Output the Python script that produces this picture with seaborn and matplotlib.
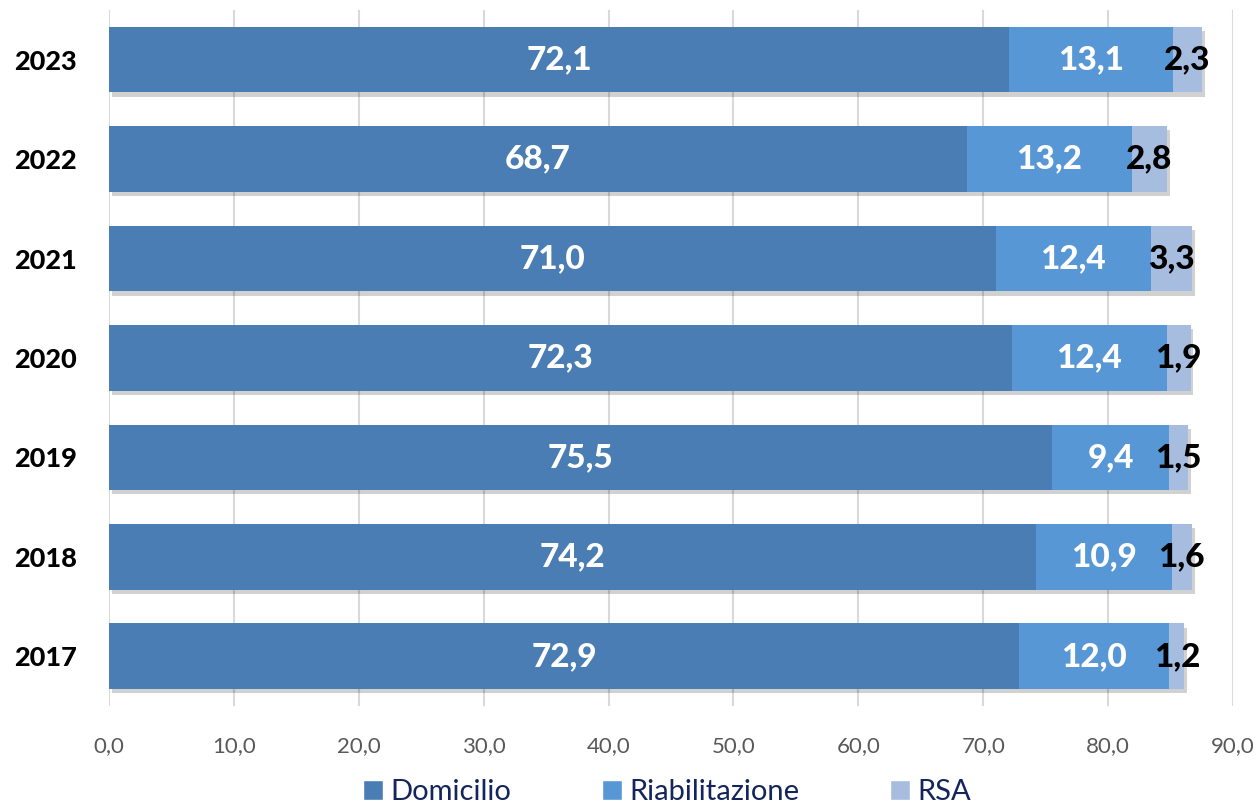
import numpy as np
import pandas as pd
import matplotlib
matplotlib.use("Agg")
import matplotlib.pyplot as plt
import matplotlib.patheffects as pe
from matplotlib.patches import Patch
import seaborn as sns

# data (top to bottom as drawn)
years = ["2023", "2022", "2021", "2020", "2019", "2018", "2017"]
domicilio = [72.1, 68.7, 71.0, 72.3, 75.5, 74.2, 72.9]
riabilitazione = [13.1, 13.2, 12.4, 12.4, 9.4, 10.9, 12.0]
rsa = [2.3, 2.8, 3.3, 1.9, 1.5, 1.6, 1.2]
series_names = ["Domicilio", "Riabilitazione", "RSA"]
x_ticks = [0, 10, 20, 30, 40, 50, 60, 70, 80, 90]

colors = ["#4a7db3", "#5797d6", "#a6bde0"]
label_colors = ["white", "white", "black"]

sns.set_style("white")
plt.rcParams["font.family"] = ["Lato", "DejaVu Sans"]

df = pd.DataFrame({"year": years, "Domicilio": domicilio,
                   "Riabilitazione": riabilitazione, "RSA": rsa})
df["c1"] = df["Domicilio"]
df["c2"] = df["c1"] + df["Riabilitazione"]
df["c3"] = df["c2"] + df["RSA"]

fig = plt.figure(figsize=(12.56, 8.10), dpi=100)
ax = fig.add_axes([0.0868, 0.1284, 0.8949, 0.8593])

# draw totals first, then overlay shorter cumulative bars
for col, c in zip(["c3", "c2", "c1"], colors[::-1]):
    sns.barplot(data=df, x=col, y="year", order=years, orient="h",
                color=c, width=0.66, saturation=1, ax=ax, zorder=3)

patches = ax.patches
n = len(years)
for p in patches[:n]:
    p.set_path_effects([pe.SimplePatchShadow(offset=(2, -3), alpha=0.18,
                                             shadow_rgbFace="black"),
                        pe.Normal()])
for p in patches:
    p.set_edgecolor("none")

# value labels
starts = [np.zeros(n), df["c1"].values, df["c2"].values]
vals = [domicilio, riabilitazione, rsa]
for k in range(3):
    for i in range(n):
        x = starts[k][i] + vals[k][i] / 2
        ax.text(x, i, f"{vals[k][i]:.1f}".replace(".", ","), ha="center",
                va="center", color=label_colors[k], fontsize=24,
                fontweight="black", zorder=5)

ax.set_xlim(0, 90)
ax.set_ylim(n - 0.5, -0.5)
ax.set_xticks(x_ticks)
ax.set_xticklabels([f"{t:.1f}".replace(".", ",") for t in x_ticks],
                   fontsize=16, color="#595959")
ax.tick_params(axis="x", length=0, pad=22)
ax.tick_params(axis="y", length=0, pad=23)
for lab in ax.get_yticklabels():
    lab.set_fontsize(19.5)
    lab.set_fontweight("black")
    lab.set_color("black")
ax.set_xlabel("")
ax.set_ylabel("")
ax.xaxis.grid(True, color="#d9d9d9", linewidth=1.5, zorder=0)
ax.set_axisbelow(True)
for s in ax.spines.values():
    s.set_visible(False)

handles = [Patch(facecolor=c, label=nm) for c, nm in zip(colors, series_names)]
leg = fig.legend(handles=handles, loc="center", bbox_to_anchor=(0.531, 0.022),
                 ncol=3, frameon=False, fontsize=21, handlelength=0.7,
                 handleheight=0.7, handletextpad=0.25, columnspacing=3.1)
for t in leg.get_texts():
    t.set_color("#13255a")

fig.savefig("out.png", dpi=100)
